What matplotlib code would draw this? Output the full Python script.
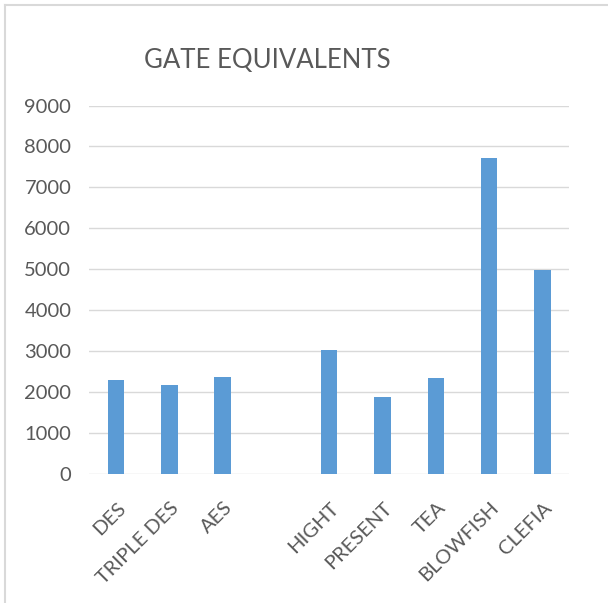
import numpy as np
import matplotlib
matplotlib.use("Agg")
import matplotlib.pyplot as plt
import matplotlib.transforms as mtransforms

plt.rcParams['font.family'] = ['Lato', 'DejaVu Sans']

# blank slot between AES and HIGHT, as in the original chart
categories = ['DES', 'TRIPLE DES', 'AES', '', 'HIGHT', 'PRESENT', 'TEA', 'BLOWFISH', 'CLEFIA']
gate_equivalents = [2300, 2170, 2380, 0, 3040, 1890, 2350, 7730, 4990]
y_ticks = [0, 1000, 2000, 3000, 4000, 5000, 6000, 7000, 8000, 9000]

text_col = '#595959'
bar_col = '#5B9BD5'
grid_col = '#D9D9D9'

fig = plt.figure(figsize=(6.08, 6.03), dpi=100)
ax = fig.add_axes([0.147, 0.214, 0.789, 0.611])

x = np.arange(len(categories))
ax.bar(x, gate_equivalents, width=0.31, color=bar_col, zorder=3)

ax.set_xlim(-0.5, len(categories) - 0.5)
ax.set_ylim(0, 9000)
ax.set_yticks(y_ticks)
ax.set_xticks(x)
ax.set_xticklabels(categories, rotation=45, ha='right', rotation_mode='anchor')
ax.tick_params(axis='both', length=0, labelsize=14.5, colors=text_col)
ax.tick_params(axis='x', pad=18)
ax.tick_params(axis='y', pad=13)

# small nudge of rotated labels to the right
shift = mtransforms.ScaledTranslation(1 / 100, 0, fig.dpi_scale_trans)
for lbl in ax.get_xticklabels():
    lbl.set_transform(lbl.get_transform() + shift)

ax.grid(axis='y', color=grid_col, linewidth=1, zorder=0)
for s in ax.spines.values():
    s.set_visible(False)

fig.text(0.439, 0.899, 'GATE EQUIVALENTS', ha='center', va='center',
         fontsize=18.5, color=text_col)

# chart frame (top and left edges visible in the crop)
fig.add_artist(plt.Line2D([0.008, 1.0], [0.992, 0.992], color=grid_col, lw=1.5))
fig.add_artist(plt.Line2D([0.008, 0.008], [0.0, 0.992], color=grid_col, lw=1.5))

fig.savefig('out.png', dpi=100)
